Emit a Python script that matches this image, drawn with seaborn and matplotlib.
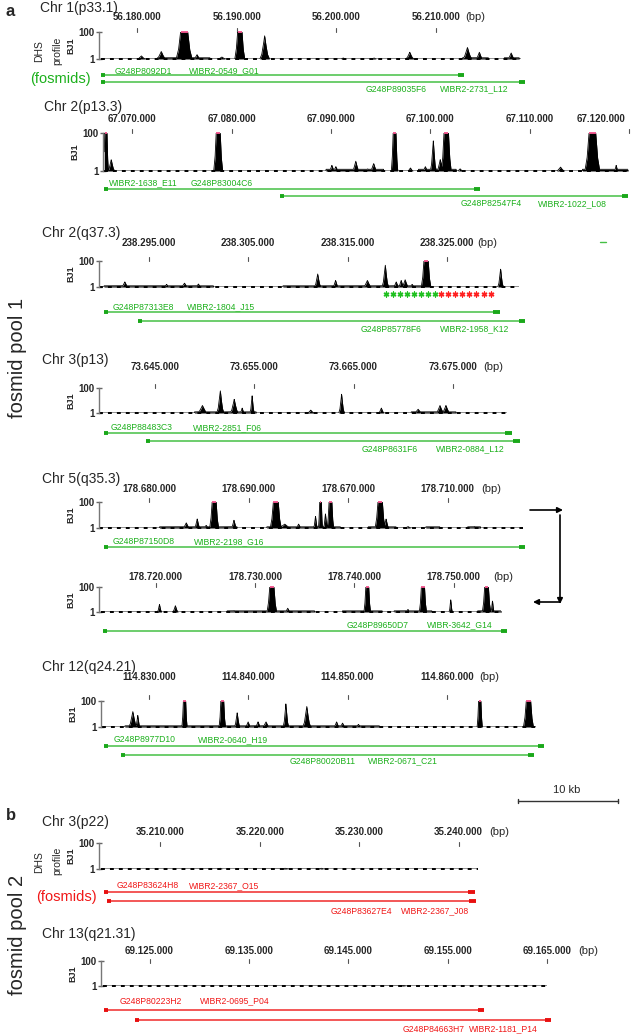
import numpy as np
import matplotlib
matplotlib.use("Agg")
import matplotlib.pyplot as plt
from matplotlib.ticker import NullLocator
import seaborn as sns

sns.set_theme(style="white")
plt.rcParams['font.family'] = ['Liberation Sans', 'DejaVu Sans']

# ------------------------------------------------------------------ data
# signal values are DHS reads on the 1..100 log axis (100 = clipped)
chr1_ticks = [56180000, 56190000, 56200000, 56210000]
chr1_tick_labels = ["56.180.000", "56.190.000", "56.200.000", "56.210.000"]
chr1_signal = [56176300, 56218600]
chr1_peak_pos = [56180400, 56182400, 56184700, 56186000, 56188500, 56190300, 56192800,
                 56200700, 56203800, 56207400, 56213200, 56214400, 56217600]
chr1_peak_val = [1.7, 3.6, 100, 2.1, 1.4, 100, 52, 1.2, 1.2, 3.2, 7.2, 3.2, 2.8]
chr1_peak_hw = [420, 490, 800, 350, 420, 500, 480, 280, 280, 420, 490, 350, 350]
chr1_noise = [(56182000, 56187300), (56212700, 56215300), (56216900, 56218400)]
chr1_fos_start = [56176300, 56176300]
chr1_fos_end = [56212900, 56219000]
chr1_fos_names = [["G248P8092D1", "WIBR2-0549_G01"], ["G248P89035F6", "WIBR2-2731_L12"]]

chr2p_ticks = [67070000, 67080000, 67090000, 67100000, 67110000, 67120000]
chr2p_tick_labels = ["67.070.000", "67.080.000", "67.090.000", "67.100.000", "67.110.000", "67.120.000"]
chr2p_signal = [67067200, 67119900]
chr2p_peak_pos = [67067360, 67067900, 67078660, 67090100, 67090500, 67092500, 67093700, 67094300,
                  67096400, 67098000, 67099500, 67100300, 67101000, 67101600, 67103000, 67113100,
                  67116300, 67118700]
chr2p_peak_val = [100, 4.0, 100, 2.0, 1.7, 3.3, 1.3, 2.5, 100, 1.45, 1.7, 40, 4.0, 100, 1.3, 1.6, 100, 2.0]
chr2p_peak_hw = [250, 350, 450, 280, 280, 350, 280, 350, 320, 280, 280, 300, 350, 500, 280, 420, 750, 200]
chr2p_noise = [(67089500, 67095300), (67098800, 67102600), (67115300, 67119900)]
chr2p_fos_start = [67067200, 67084900]
chr2p_fos_end = [67105000, 67119900]
chr2p_fos_names = [["WIBR2-1638_E11", "G248P83004C6"], ["G248P82547F4", "WIBR2-1022_L08"]]

chr2q_ticks = [238295000, 238305000, 238315000, 238325000]
chr2q_tick_labels = ["238.295.000", "238.305.000", "238.315.000", "238.325.000"]
chr2q_signal = [238290000, 238332300]
chr2q_peak_pos = [238292600, 238296800, 238298600, 238300000, 238309300, 238312000, 238313800,
                  238317000, 238318800, 238319900, 238320400, 238320800, 238321500, 238322900,
                  238330400]
chr2q_peak_val = [2.5, 1.6, 2.0, 1.7, 1.2, 10, 3.2, 3.2, 50, 2.5, 3.2, 3.6, 1.6, 100, 25]
chr2q_peak_hw = [350, 280, 350, 280, 350, 330, 280, 420, 330, 280, 280, 350, 280, 480, 280]
chr2q_noise = [(238290500, 238301500), (238308500, 238323300)]
chr2q_fos_start = [238290500, 238293900]
chr2q_fos_end = [238330300, 238332900]
chr2q_fos_names = [["G248P87313E8", "WIBR2-1804_J15"], ["G248P85778F6", "WIBR2-1958_K12"]]
chr2q_star_green = [238318900, 238323800]
chr2q_star_red = [238324400, 238329400]
chr2q_star_count = 8

chr3_ticks = [73645000, 73655000, 73665000, 73675000]
chr3_tick_labels = ["73.645.000", "73.655.000", "73.665.000", "73.675.000"]
chr3_signal = [73639400, 73680400]
chr3_peak_pos = [73649800, 73651600, 73653000, 73653800, 73654800, 73660700, 73663800, 73667800,
                 73671500, 73673700, 73674300]
chr3_peak_val = [4.0, 63, 12.6, 2.5, 25, 1.7, 31.6, 2.5, 2.0, 4.0, 4.0]
chr3_peak_hw = [520, 360, 420, 220, 220, 350, 280, 280, 420, 420, 420]
chr3_noise = [(73649000, 73655200), (73670800, 73675300)]
chr3_fos_start = [73639900, 73644100]
chr3_fos_end = [73680900, 73681700]
chr3_fos_names = [["G248P88483C3", "WIBR2-2851_F06"], ["G248P8631F6", "WIBR2-0884_L12"]]

chr5a_ticks = [178680000, 178690000, 178700000, 178710000]
chr5a_tick_labels = ["178.680.000", "178.690.000", "178.670.000", "178.710.000"]
chr5a_signal = [178674900, 178717600]
chr5a_peak_pos = [178683700, 178684800, 178685700, 178686500, 178688500, 178692700, 178693600,
                  178695000, 178696700, 178697200, 178697700, 178698200, 178703200, 178703800,
                  178706000, 178712700]
chr5a_peak_val = [2.5, 5.0, 1.6, 100, 4.0, 100, 2.0, 2.0, 7.9, 100, 12.6, 100, 100, 5.0, 1.3, 1.3]
chr5a_peak_hw = [350, 280, 280, 450, 280, 550, 700, 280, 200, 200, 200, 320, 500, 280, 350, 350]
chr5a_noise = [(178681000, 178688800), (178691800, 178699200), (178702000, 178704800),
               (178707800, 178709200), (178712000, 178713300)]
chr5a_fos_start = [178675400]
chr5a_fos_end = [178717800]
chr5a_fos_names = [["G248P87150D8", "WIBR2-2198_G16"]]

chr5b_ticks = [178720000, 178730000, 178740000, 178750000]
chr5b_tick_labels = ["178.720.000", "178.730.000", "178.740.000", "178.750.000"]
chr5b_signal = [178714500, 178754800]
chr5b_peak_pos = [178720400, 178722000, 178727900, 178731700, 178733300, 178741300, 178745400,
                  178746900, 178749700, 178753300, 178753900]
chr5b_peak_val = [4.0, 3.2, 1.3, 100, 2.0, 100, 1.6, 100, 10, 100, 7.9]
chr5b_peak_hw = [220, 280, 350, 480, 280, 330, 220, 360, 170, 420, 170]
chr5b_noise = [(178727200, 178736000), (178738800, 178742800), (178744000, 178747800),
               (178752400, 178754800)]
chr5b_fos_start = [178714700]
chr5b_fos_end = [178755400]
chr5b_fos_names = [["G248P89650D7", "WIBR-3642_G14"]]

chr12_ticks = [114830000, 114840000, 114850000, 114860000]
chr12_tick_labels = ["114.830.000", "114.840.000", "114.850.000", "114.860.000"]
chr12_signal = [114825300, 114869000]
chr12_peak_pos = [114828400, 114828900, 114833600, 114837400, 114838900, 114840000, 114841000,
                  114841800, 114843800, 114845900, 114848900, 114849500, 114851100, 114863300,
                  114868200]
chr12_peak_val = [15.8, 7.9, 100, 100, 12.6, 2.5, 2.5, 2.5, 63, 40, 2.5, 2.0, 1.6, 100, 100]
chr12_peak_hw = [420, 220, 260, 320, 280, 280, 280, 350, 280, 400, 280, 280, 280, 260, 500]
chr12_noise = [(114827600, 114853200)]
chr12_fos_start = [114825500, 114827200]
chr12_fos_end = [114869800, 114868800]
chr12_fos_names = [["G248P8977D10", "WIBR2-0640_H19"], ["G248P80020B11", "WIBR2-0671_C21"]]

chr3b_ticks = [35210000, 35220000, 35230000, 35240000]
chr3b_tick_labels = ["35.210.000", "35.220.000", "35.230.000", "35.240.000"]
chr3b_signal = [35204000, 35242000]
chr3b_peak_pos = [35216000, 35222500, 35226200]
chr3b_peak_val = [1.15, 1.15, 1.15]
chr3b_peak_hw = [300, 600, 300]
chr3b_noise = []
chr3b_fos_start = [35204300, 35204600]
chr3b_fos_end = [35241600, 35241700]
chr3b_fos_names = [["G248P83624H8", "WIBR2-2367_O15"], ["G248P83627E4", "WIBR2-2367_J08"]]

chr13_ticks = [69125000, 69135000, 69145000, 69155000, 69165000]
chr13_tick_labels = ["69.125.000", "69.135.000", "69.145.000", "69.155.000", "69.165.000"]
chr13_signal = [69120300, 69165000]
chr13_peak_pos = [69150500]
chr13_peak_val = [1.12]
chr13_peak_hw = [500]
chr13_noise = []
chr13_fos_start = [69120400, 69123500]
chr13_fos_end = [69158700, 69165400]
chr13_fos_names = [["G248P80223H2", "WIBR2-0695_P04"], ["G248P84663H7", "WIBR2-1181_P14"]]

# ------------------------------------------------------------------ layout (pixels)
W, H = 634, 1035
BP_PER_PX = 100.6
GREEN_TXT, GREEN_LINE, GREEN_BLOCK = '#1cb01c', '#45c045', '#1aa81a'
RED_TXT, RED_LINE, RED_BLOCK = '#f01818', '#f02a2a', '#e81010'
LABEL_FS = 6.2

tracks = [
    dict(title="Chr 1(p33.1)", title_xy=(40, 8), tick0_px=137.4, spine_px=99, top=32, base=59,
         tl_y=17, tm_y=30, bp_x=465, dhs=True, color='g',
         ticks=chr1_ticks, labels=chr1_tick_labels, signal=chr1_signal, pos=chr1_peak_pos,
         val=chr1_peak_val, hw=chr1_peak_hw, noise=chr1_noise, fs=chr1_fos_start, fe=chr1_fos_end,
         fn=chr1_fos_names, fos_y=[75, 82], fos_lab=[(115, 189, 71), (366, 440, 89)],
         fosmids_xy=(91, 79)),
    dict(title="Chr 2(p13.3)", title_xy=(44, 107), tick0_px=132.1, spine_px=103, top=133, base=171,
         tl_y=119, tm_y=131, bp_x=None, dhs=False, color='g',
         ticks=chr2p_ticks, labels=chr2p_tick_labels, signal=chr2p_signal, pos=chr2p_peak_pos,
         val=chr2p_peak_val, hw=chr2p_peak_hw, noise=chr2p_noise, fs=chr2p_fos_start, fe=chr2p_fos_end,
         fn=chr2p_fos_names, fos_y=[189, 196], fos_lab=[(109, 191, 183), (461, 538, 204)]),
    dict(title="Chr 2(q37.3)", title_xy=(42, 233), tick0_px=148.7, spine_px=99, top=261, base=287,
         tl_y=243, tm_y=259, bp_x=477, dhs=False, color='g',
         ticks=chr2q_ticks, labels=chr2q_tick_labels, signal=chr2q_signal, pos=chr2q_peak_pos,
         val=chr2q_peak_val, hw=chr2q_peak_hw, noise=chr2q_noise, fs=chr2q_fos_start, fe=chr2q_fos_end,
         fn=chr2q_fos_names, fos_y=[312, 321], fos_lab=[(113, 187, 307), (361, 440, 329)]),
    dict(title="Chr 3(p13)", title_xy=(42, 360), tick0_px=154.7, spine_px=99, top=388, base=413,
         tl_y=367, tm_y=386, bp_x=483, dhs=False, color='g',
         ticks=chr3_ticks, labels=chr3_tick_labels, signal=chr3_signal, pos=chr3_peak_pos,
         val=chr3_peak_val, hw=chr3_peak_hw, noise=chr3_noise, fs=chr3_fos_start, fe=chr3_fos_end,
         fn=chr3_fos_names, fos_y=[433, 441], fos_lab=[(111, 193, 428), (362, 436, 449)]),
    dict(title="Chr 5(q35.3)", title_xy=(42, 479), tick0_px=149.5, spine_px=99, top=502, base=528,
         tl_y=489, tm_y=500, bp_x=481, dhs=False, color='g',
         ticks=chr5a_ticks, labels=chr5a_tick_labels, signal=chr5a_signal, pos=chr5a_peak_pos,
         val=chr5a_peak_val, hw=chr5a_peak_hw, noise=chr5a_noise, fs=chr5a_fos_start, fe=chr5a_fos_end,
         fn=chr5a_fos_names, fos_y=[547], fos_lab=[(113, 194, 542)]),
    dict(title=None, title_xy=None, tick0_px=155.5, spine_px=99, top=587, base=612,
         tl_y=577, tm_y=585, bp_x=493, dhs=False, color='g',
         ticks=chr5b_ticks, labels=chr5b_tick_labels, signal=chr5b_signal, pos=chr5b_peak_pos,
         val=chr5b_peak_val, hw=chr5b_peak_hw, noise=chr5b_noise, fs=chr5b_fos_start, fe=chr5b_fos_end,
         fn=chr5b_fos_names, fos_y=[631], fos_lab=[(347, 427, 625)]),
    dict(title="Chr 12(q24.21)", title_xy=(42, 667), tick0_px=148.7, spine_px=101, top=701, base=727,
         tl_y=677, tm_y=697, bp_x=479, dhs=False, color='g',
         ticks=chr12_ticks, labels=chr12_tick_labels, signal=chr12_signal, pos=chr12_peak_pos,
         val=chr12_peak_val, hw=chr12_peak_hw, noise=chr12_noise, fs=chr12_fos_start, fe=chr12_fos_end,
         fn=chr12_fos_names, fos_y=[746, 755], fos_lab=[(114, 198, 740), (290, 368, 761)]),
    dict(title="Chr 3(p22)", title_xy=(42, 822), tick0_px=160.4, spine_px=99, top=843, base=869,
         tl_y=832, tm_y=844, bp_x=489, dhs=True, color='r',
         ticks=chr3b_ticks, labels=chr3b_tick_labels, signal=chr3b_signal, pos=chr3b_peak_pos,
         val=chr3b_peak_val, hw=chr3b_peak_hw, noise=chr3b_noise, fs=chr3b_fos_start, fe=chr3b_fos_end,
         fn=chr3b_fos_names, fos_y=[892, 901], fos_lab=[(117, 189, 886), (331, 401, 911)],
         fosmids_xy=(97, 897)),
    dict(title="Chr 13(q21.31)", title_xy=(42, 934), tick0_px=149.5, spine_px=101, top=961, base=986,
         tl_y=951, tm_y=961, bp_x=578, dhs=False, color='r',
         ticks=chr13_ticks, labels=chr13_tick_labels, signal=chr13_signal, pos=chr13_peak_pos,
         val=chr13_peak_val, hw=chr13_peak_hw, noise=chr13_noise, fs=chr13_fos_start, fe=chr13_fos_end,
         fn=chr13_fos_names, fos_y=[1010, 1020], fos_lab=[(120, 200, 1001), (403, 469, 1029)]),
]

# ------------------------------------------------------------------ figure
fig = plt.figure(figsize=(W / 100, H / 100), dpi=100)
fig.patch.set_facecolor('white')


def frect(x0, y0, x1, y1):
    return [x0 / W, 1 - y1 / H, (x1 - x0) / W, (y1 - y0) / H]


ov = fig.add_axes([0, 0, 1, 1])
ov.set_xlim(0, W)
ov.set_ylim(H, 0)
ov.axis('off')
ov.patch.set_alpha(0)


def profile(x, pos, vals, hws, noise):
    f = np.zeros_like(x)
    for c, v, w in zip(pos, vals, hws):
        fr = min(np.log10(v) / 2.0, 1.0)
        if v >= 100:
            xo = np.array([-1, -0.7, -0.45, 0.45, 0.7, 1.0])
            fo = np.array([0, 0.35, 1, 1, 0.35, 0])
        else:
            xo = np.array([-1, -0.6, -0.25, 0, 0.25, 0.6, 1.0])
            fo = np.array([0, 0.2, 0.62, 1, 0.62, 0.2, 0])
        f = np.maximum(f, np.interp(x, c + w * xo, fr * fo, left=0, right=0))
    for a, b in noise:
        f = np.where((x >= a) & (x <= b), np.maximum(f, 0.045), f)
    return 10 ** (2 * f)


for t in tracks:
    g0 = t['ticks'][0]
    bp2px = lambda bp, t=t, g0=g0: t['tick0_px'] + (bp - g0) / BP_PER_PX
    px2bp = lambda px, t=t, g0=g0: g0 + (px - t['tick0_px']) * BP_PER_PX
    col_txt, col_line, col_block = ((GREEN_TXT, GREEN_LINE, GREEN_BLOCK) if t['color'] == 'g'
                                    else (RED_TXT, RED_LINE, RED_BLOCK))

    # layout axes: x in bp, y in pixel rows
    lay = fig.add_axes([0, 0, 1, 1])
    lay.set_xlim(px2bp(0), px2bp(W))
    lay.set_ylim(H, 0)
    lay.axis('off')
    lay.patch.set_alpha(0)

    # signal axes
    s0, s1 = t['signal']
    sig = fig.add_axes(frect(t['spine_px'], t['top'], bp2px(s1), t['base']))
    sig.patch.set_alpha(0)
    sig.set_yscale('log')
    sig.set_xlim(px2bp(t['spine_px']), s1)
    sig.set_ylim(1, 100)
    x = np.linspace(s0, s1, 5000)
    y = profile(x, t['pos'], t['val'], t['hw'], t['noise'])
    sig.fill_between(x, 1, y, color='black', lw=0)
    sns.lineplot(x=x, y=y, ax=sig, color='black', lw=0.6, estimator=None, sort=False)
    sig.plot([s0, s1], [1, 1], color='black', lw=1.4, linestyle=(0, (2.0, 2.6)), clip_on=False)
    for c, v, w in zip(t['pos'], t['val'], t['hw']):
        if v >= 100:
            sig.plot([c - 0.45 * w, c + 0.45 * w], [100, 100], color='#f0508a', lw=1.3,
                     solid_capstyle='butt', clip_on=False)
    for side in ['top', 'right', 'bottom']:
        sig.spines[side].set_visible(False)
    sig.spines['left'].set_color('#777777')
    sig.spines['left'].set_linewidth(1.0)
    sig.set_xticks([])
    sig.set_yticks([1, 100])
    sig.set_yticklabels(['1', '100'])
    sig.yaxis.set_minor_locator(NullLocator())
    sig.tick_params(axis='y', direction='inout', length=5, width=1.0, color='#666666',
                    labelsize=7, pad=0.5, left=True)
    for lab in sig.get_yticklabels():
        lab.set_fontweight('bold')
    sig.set_ylabel('')
    sig.set_xlabel('')

    # ticks and labels
    for tb, tl in zip(t['ticks'], t['labels']):
        lay.plot([tb, tb], [t['tm_y'] - 2, t['tm_y'] + 2], color='#555555', lw=0.8)
        if bp2px(tb) + 25 > W - 6:
            lay.text(px2bp(625), t['tl_y'], tl, ha='right', va='center', fontsize=7, fontweight='bold')
        else:
            lay.text(tb, t['tl_y'], tl, ha='center', va='center', fontsize=7, fontweight='bold')
    if t['bp_x'] is not None:
        ov.text(t['bp_x'], t['tl_y'], '(bp)', ha='left', va='center', fontsize=8)

    # titles and axis names
    if t['title']:
        ov.text(t['title_xy'][0], t['title_xy'][1], t['title'], ha='left', va='center', fontsize=10)
    mid = (t['top'] + t['base']) / 2
    ov.text(t['spine_px'] - 28, mid, 'BJ1', rotation=90, ha='center', va='center',
            fontsize=6.5, fontweight='bold')
    if t['dhs']:
        ov.text(39, mid + 6, 'DHS', rotation=90, ha='center', va='center', fontsize=7.5)
        ov.text(57, mid + 5, 'profile', rotation=90, ha='center', va='center', fontsize=7.5)
        fx, fy = t['fosmids_xy']
        ov.text(fx, fy, '(fosmids)', ha='right', va='center', fontsize=10.5, color=col_txt)

    # fosmids
    for fs_, fe_, fy, (a, b), (lx1, lx2, ly) in zip(t['fs'], t['fe'], t['fos_y'], t['fn'], t['fos_lab']):
        lay.plot([fs_, fe_], [fy, fy], color=col_line, lw=1.1, solid_capstyle='butt')
        lay.plot([fs_, fs_ + 400], [fy, fy], color=col_block, lw=2.8, solid_capstyle='butt')
        lay.plot([fe_ - 650, fe_], [fy, fy], color=col_block, lw=2.8, solid_capstyle='butt')
        ov.text(lx1, ly, a, ha='left', va='center', fontsize=LABEL_FS, color=col_txt)
        ov.text(lx2, ly, b, ha='left', va='center', fontsize=LABEL_FS, color=col_txt)

    if t['ticks'] is chr2q_ticks:
        gx = np.linspace(chr2q_star_green[0], chr2q_star_green[1], chr2q_star_count)
        rx = np.linspace(chr2q_star_red[0], chr2q_star_red[1], chr2q_star_count)
        lay.scatter(gx, [294] * len(gx), marker=(6, 2, 0), s=12, color='#20c020', linewidths=1.0)
        lay.scatter(rx, [294] * len(rx), marker=(6, 2, 0), s=12, color='#ff2020', linewidths=1.0)

# panel letters, pool labels
ov.text(10, 12, 'a', ha='center', va='center', fontsize=12, fontweight='bold')
ov.text(11, 815, 'b', ha='center', va='center', fontsize=12, fontweight='bold')
ov.text(18, 358, 'fosmid pool 1', rotation=90, ha='center', va='center', fontsize=14.5)
ov.text(18, 935, 'fosmid pool 2', rotation=90, ha='center', va='center', fontsize=14.5)
ov.plot([600, 606], [242, 242], color=GREEN_LINE, lw=1)

# chr5 continuation arrows
arr = dict(arrowstyle='-|>', color='black', lw=1.2, mutation_scale=8, shrinkA=0, shrinkB=0)
ov.annotate('', xy=(563, 510), xytext=(530, 510), arrowprops=arr)
ov.annotate('', xy=(560, 604), xytext=(560, 515), arrowprops=arr)
ov.annotate('', xy=(533, 602), xytext=(560, 602), arrowprops=arr)

# scale bar 10 kb
ov.plot([518, 618], [801, 801], color='#333333', lw=1.0)
ov.plot([518, 518], [799, 803], color='#333333', lw=1.0)
ov.plot([618, 618], [799, 803], color='#333333', lw=1.0)
ov.text(567, 790, '10 kb', ha='center', va='center', fontsize=8)

fig.savefig('out.png', dpi=100, facecolor='white')
